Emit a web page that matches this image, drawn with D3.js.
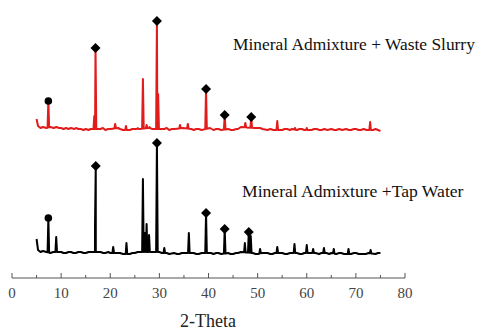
<!DOCTYPE html>
<html><head><meta charset="utf-8">
<script src="https://cdn.jsdelivr.net/npm/d3@7"></script>
<style>body{margin:0;background:#fff}svg{display:block}text{font-family:'Liberation Serif','Times New Roman',Times,serif}</style>
</head><body>
<script>
// ---- data (intensity in arbitrary units) ----
const xTicks = [0,10,20,30,40,50,60,70,80];
const xLabel = "2-Theta";
const seriesNames = ["Mineral Admixture + Waste Slurry", "Mineral Admixture +Tap Water"];
const offsets = [123, 0];            // vertical stacking offset of each pattern
// background (2θ, intensity)
const bgWaste = [[5.0,13],[5.3,6],[5.8,4],[6.3,5],[7,4],[7.8,5],[8.5,4],[9,5],[9.6,4],[10,4],[10.5,3],[11,4],[11.5,3],[12,4],[12.7,3],[13,4],[13.5,3],[14,3],[14.6,2],[15,3],[15.6,2],[16,3],[18,3],[18.5,4],[19,2],[19.6,3],[20,3],[21.6,4],[22,3],[22.6,2],[24,2],[24.5,3],[26,3],[28,4],[28.6,3],[31,3],[31.5,4],[32,2],[32.6,3],[33,3],[34.8,4],[36.5,3],[37,2],[37.5,3],[38,3],[38.6,2],[40.3,4],[41,2],[41.6,3],[42,3],[42.6,2],[44,3],[44.6,2],[45,2],[45.7,3],[46,3],[46.6,5],[49.3,4],[50.5,4],[51,3],[52,2],[52.6,3],[53.2,2],[55,2],[55.5,3],[56,3],[56.6,2],[57,3],[58,2],[58.5,3],[59,3],[59.5,2],[61,2],[61.5,3],[62,3],[62.6,2],[63,2],[63.6,3],[64.2,2],[65,3],[65.6,2],[66,2],[66.6,3],[67.2,2],[68,3],[68.6,2],[69,2],[69.6,3],[70,3],[70.6,2],[71,2],[71.6,3],[72.2,2],[73.5,2],[74,3],[74.5,2],[75,1]];
const bgTap = [[5.0,16],[5.3,5],[5.8,3],[6.3,4],[7,3],[7.8,2],[8.4,3],[10,3],[10.5,2],[11,2],[11.5,3],[12,3],[12.5,2],[13,2],[13.5,3],[14,3],[14.6,2],[15,2],[15.6,3],[16,3],[18,3],[18.6,2],[19,2],[19.6,3],[20,2],[21.5,2],[22,2],[22.6,1],[24,1],[24.5,2],[25,2],[25.6,3],[26,3],[28.5,3],[30,3],[30.5,2],[31.5,2],[32,1],[33,2],[33.6,1],[34,1],[34.6,2],[35,2],[37,2],[37.5,1],[38,1],[38.6,2],[40.5,2],[41,1],[41.6,2],[42,2],[42.6,1],[44,2],[44.5,1],[45,1],[45.6,2],[46,2],[46.6,3],[49,2],[49.6,1],[50,1],[51,2],[52,2],[52.6,1],[53,1],[53.5,2],[55,2],[55.6,1],[56,1],[56.6,2],[58,2],[58.6,1],[59,1],[59.5,2],[61.8,2],[62.5,1],[63,2],[64,2],[64.6,1],[65,2],[66,1],[66.6,2],[67,2],[67.6,1],[69,1],[69.6,2],[70,2],[70.6,1],[72,1],[72.6,2],[74,1],[74.5,2],[75,2]];
// peaks (2θ, peak height above zero)
const peaksWaste = [[7.4,31],[16.75,16],[17.0,84],[21.0,8],[23.2,6],[25.6,4],[26.65,53],[27.4,7],[28.0,5],[29.5,111],[29.75,38],[34.2,7],[35.8,8],[39.5,43],[43.3,17],[47.5,9],[48.7,15],[50.0,4],[54.0,11],[57.6,4],[60.0,4],[72.9,10]];
const peaksTap = [[7.4,37],[9.0,18],[16.9,30],[17.05,89],[20.6,8],[23.3,12],[26.65,76],[27.05,22],[27.4,31],[27.9,20],[29.5,112],[31.0,7],[36.0,22],[39.5,42],[43.3,26],[47.4,12],[48.2,23],[48.6,19],[50.5,6],[54.0,8],[57.5,11],[60.0,10],[61.3,6],[63.5,7],[65.5,6],[68.5,6],[73.0,5]];
// phase markers: [2θ, intensity, shape]
const marksWaste = [[7.4,31,"circle"],[17.0,84,"diamond"],[29.5,111,"diamond"],[39.5,43,"diamond"],[43.3,17,"diamond"],[48.7,15,"diamond"]];
const marksTap = [[7.4,37,"circle"],[17.05,89,"diamond"],[29.5,112,"diamond"],[39.5,42,"diamond"],[43.3,26,"diamond"],[48.2,23,"diamond"]];
const colors = ["#e21b1b", "#000000"];

// ---- drawing ----
const W = 478, H = 332;
const FONT = "'Liberation Serif', 'Times New Roman', Times, serif";
const svg = d3.select("body").append("svg").attr("width", W).attr("height", H);
const x = d3.scaleLinear().domain([0, 80]).range([12, 405]);
const y = d3.scaleLinear().domain([0, 255]).range([255, 0]);

function bgAt(bg, t) {
  for (let i = 0; i < bg.length - 1; i++) {
    if (t >= bg[i][0] && t <= bg[i+1][0]) {
      const f = (t - bg[i][0]) / (bg[i+1][0] - bg[i][0]);
      return bg[i][1] + f * (bg[i+1][1] - bg[i][1]);
    }
  }
  return bg[bg.length-1][1];
}
function trace(bg, peaks) {
  const pts = bg.map(d => [d[0], d[1]]);
  const w = 0.16;
  peaks.forEach(p => {
    pts.push([p[0] - w, bgAt(bg, p[0] - w)]);
    pts.push([p[0], p[1]]);
    pts.push([p[0] + w, bgAt(bg, p[0] + w)]);
  });
  return pts.sort((a, b) => a[0] - b[0]);
}
const line = d3.line().x(d => x(d[0])).y(d => d[1]);
const sets = [[bgWaste, peaksWaste, marksWaste], [bgTap, peaksTap, marksTap]];
sets.forEach((s, i) => {
  const off = offsets[i];
  const pts = trace(s[0], s[1]).map(d => [d[0], y(d[1] + off)]);
  svg.append("path").attr("d", line(pts)).attr("fill", "none")
    .attr("stroke", colors[i]).attr("stroke-width", 2)
    .attr("stroke-linejoin", "round");
  const sym = { circle: d3.symbol(d3.symbolCircle, 45), diamond: d3.symbol(d3.symbolSquare, 50) };
  s[2].forEach(m => {
    svg.append("path").attr("d", sym[m[2]]()).attr("fill", "#000")
      .attr("transform", `translate(${x(m[0])},${y(m[1] + off)})` + (m[2] === "diamond" ? " rotate(45)" : ""));
  });
});

// series labels
svg.append("text").attr("x", 233).attr("y", 50).text(seriesNames[0])
  .attr("font-family", FONT).attr("font-size", 17.4).attr("fill", "#111");
svg.append("text").attr("x", 242).attr("y", 197).text(seriesNames[1])
  .attr("font-family", FONT).attr("font-size", 17.6).attr("fill", "#111");

// x axis with upward ticks
const axY = 278;
const ax = svg.append("g").attr("transform", `translate(0,${axY})`);
ax.append("line").attr("x1", x(0)).attr("x2", x(80)).attr("stroke", "#555").attr("stroke-width", 1);
d3.range(0, 81, 5).forEach(t => {
  const major = t % 10 === 0;
  ax.append("line").attr("x1", x(t)).attr("x2", x(t)).attr("y1", 0).attr("y2", major ? -5 : -3)
    .attr("stroke", "#555").attr("stroke-width", 1);
});
ax.selectAll("text.tick").data(xTicks).join("text").attr("class", "tick")
  .attr("x", d => x(d)).attr("y", 20).attr("text-anchor", "middle")
  .attr("font-family", FONT).attr("font-size", 15).attr("fill", "#444")
  .text(d => d);
svg.append("text").attr("x", 208).attr("y", 327).attr("text-anchor", "middle")
  .attr("font-family", FONT).attr("font-size", 18).attr("fill", "#222")
  .text(xLabel);
</script>
</body></html>
